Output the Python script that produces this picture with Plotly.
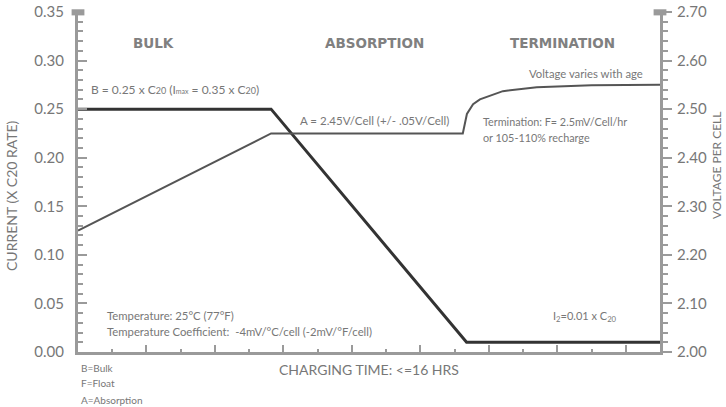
import plotly.graph_objects as go

# Data
time_current = [0, 5.64, 11.35, 17]
current = [0.25, 0.25, 0.01, 0.01]

time_voltage = [0, 5.64, 11.24, 11.3, 11.36, 11.54, 11.74, 12.41, 13.4, 15.0, 17]
voltage = [2.25, 2.45, 2.45, 2.47, 2.49, 2.51, 2.52, 2.537, 2.545, 2.549, 2.55]

GRAY = "#9a9a9a"
TXT = "#777777"
FONT = "Lato"

fig = go.Figure()
fig.add_trace(go.Scatter(x=time_voltage, y=voltage, mode="lines", yaxis="y2",
                         line=dict(color="#555555", width=2), hoverinfo="skip"))
fig.add_trace(go.Scatter(x=time_current, y=current, mode="lines",
                         line=dict(color="#333333", width=3), hoverinfo="skip"))

fig.update_layout(
    width=726, height=407,
    margin=dict(l=78, r=66, t=12, b=55, autoexpand=False),
    paper_bgcolor="white", plot_bgcolor="white",
    showlegend=False,
    font=dict(family=FONT, color=TXT, size=13),
    xaxis=dict(range=[0, 17], showgrid=False, zeroline=False, showline=True, automargin=False,
               linecolor=GRAY, linewidth=3, ticks="inside", tickcolor=GRAY,
               tickwidth=2, ticklen=7, tickvals=[2, 4, 6, 8, 10, 12, 14, 16],
               showticklabels=False,
               minor=dict(tickvals=[1, 3, 5, 7, 9, 11, 13, 15, 17], ticks="inside",
                          ticklen=3, tickcolor=GRAY, tickwidth=2)),
    yaxis=dict(range=[0, 0.35], showgrid=False, zeroline=False, showline=True, automargin=False,
               linecolor=GRAY, linewidth=3, ticks="inside", tickcolor=GRAY,
               tickwidth=2, ticklen=9, dtick=0.05, tickformat=".2f",
               tickfont=dict(size=15, color=TXT), ticklabelstandoff=8,
               minor=dict(dtick=0.01, ticks="inside", ticklen=5, tickcolor=GRAY, tickwidth=2)),
    yaxis2=dict(range=[2.0, 2.7], overlaying="y", side="right", showgrid=False, automargin=False,
                zeroline=False, showline=True, linecolor=GRAY, linewidth=3,
                ticks="outside", tickcolor=GRAY, tickwidth=2, ticklen=9, dtick=0.1,
                tickformat=".2f", tickfont=dict(size=15, color=TXT), ticklabelstandoff=2,
                minor=dict(dtick=0.02, ticks="outside", ticklen=5, tickcolor=GRAY, tickwidth=2)),
)

# top caps on the y axes
for xc in (0.0, 1.0):
    fig.add_shape(type="rect", xref="paper", yref="paper",
                  x0=xc - 0.011, x1=xc + 0.011, y0=0.99, y1=1.008,
                  fillcolor=GRAY, line=dict(width=0))

def ann(text, x, y, size=11, bold=False, xanchor="left", color=TXT, angle=0, family=FONT):
    fig.add_annotation(text=f"<b>{text}</b>" if bold else text, x=x, y=y, xref="paper", yref="paper",
                       showarrow=False, xanchor=xanchor, yanchor="middle", textangle=angle,
                       font=dict(family=family, size=size, color=color))

W, H = 582.0, 340.0
def px(x):
    return (x - 78) / W
def py(y):
    return (352 - y) / H

HDR = "DejaVu Sans"
ann("BULK", px(153), py(43), size=13.5, bold=True, xanchor="center", color="#808080", family=HDR)
ann("ABSORPTION", px(374), py(43), size=13.5, bold=True, xanchor="center", color="#808080", family=HDR)
ann("TERMINATION", px(562), py(43), size=13.5, bold=True, xanchor="center", color="#808080", family=HDR)

ann("B = 0.25 x C<span style='font-size:9px'>20</span> (I<span style='font-size:7px'>max</span> = 0.35 x C<span style='font-size:9px'>20</span>)",
    px(89), py(90), size=12)
ann("A = 2.45V/Cell (+/- .05V/Cell)", px(298), py(120), size=11.5)
ann("Voltage varies with age", px(527), py(73), size=11.3)
ann("Termination: F= 2.5mV/Cell/hr", px(481), py(122), size=10.8)
ann("or 105-110% recharge", px(481), py(137), size=10.8)
ann("Temperature: 25°C (77°F)", px(105), py(315), size=11.3)
ann("Temperature Coefficient:  -4mV/°C/cell (-2mV/°F/cell)", px(105), py(331), size=11.3)
ann("I<sub>2</sub>=0.01 x C<sub>20</sub>", px(551), py(316), size=11)
ann("CHARGING TIME: <=16 HRS", px(369), py(369), size=14, xanchor="center")
ann("B=Bulk", px(79), py(368), size=10)
ann("F=Float", px(79), py(383), size=10)
ann("A=Absorption", px(79), py(400), size=10)

ann("CURRENT (X C20 RATE)", px(11), py(196), size=14, xanchor="center", angle=-90)
ann("VOLTAGE PER CELL", px(717), py(166), size=12, xanchor="center", angle=-90)

fig.write_html("out.html", config={"displayModeBar": False},
               post_script="document.body.style.margin='0';document.body.style.overflow='hidden';")
